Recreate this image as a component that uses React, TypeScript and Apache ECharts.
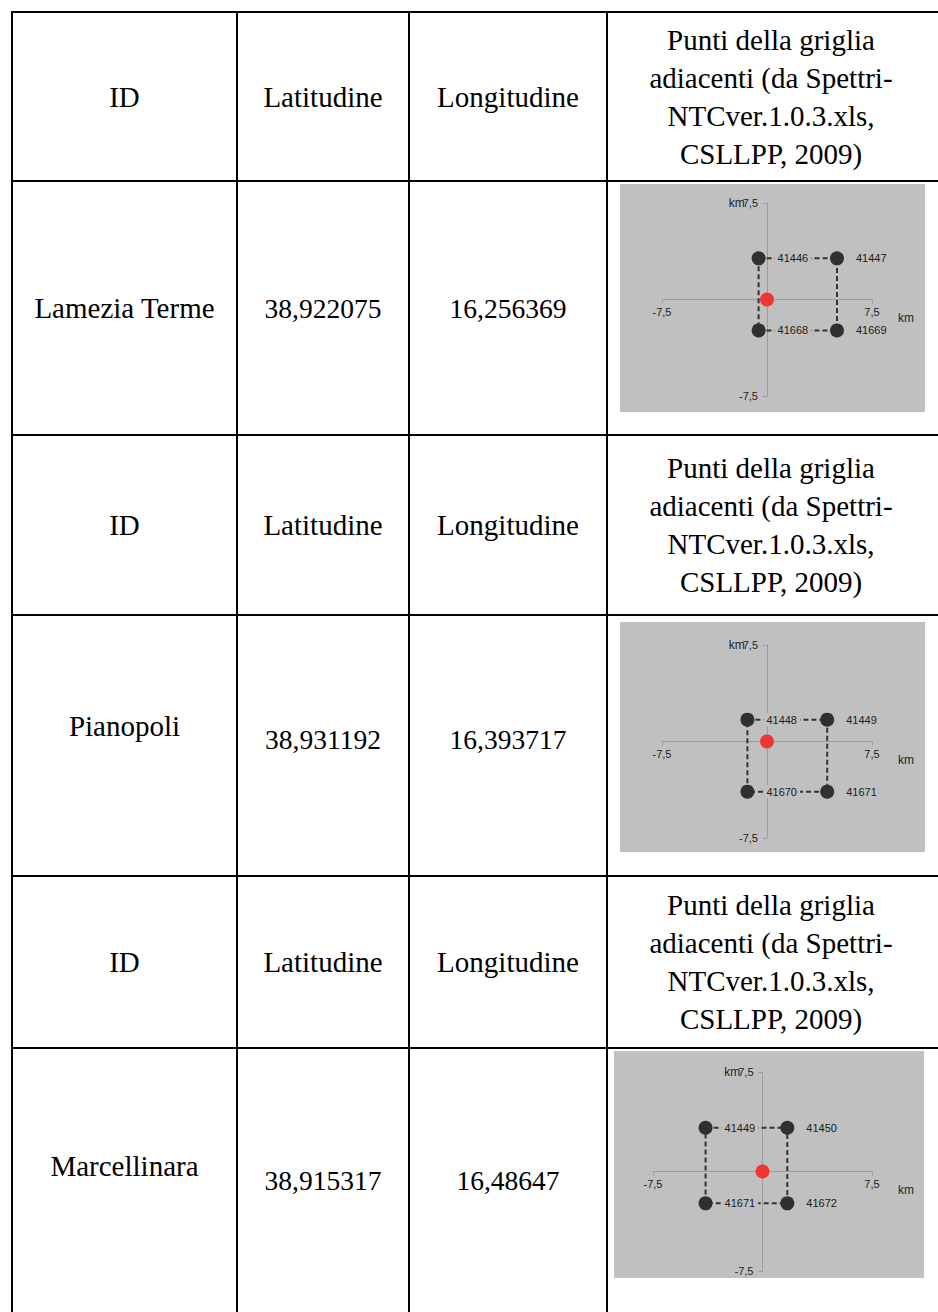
import React, { useEffect, useRef } from "react";
import * as echarts from "echarts";

// ---- data ----
const headerLabels = [
  "ID",
  "Latitudine",
  "Longitudine",
  "Punti della griglia\nadiacenti (da Spettri-\nNTCver.1.0.3.xls,\nCSLLPP, 2009)",
];
const sites = ["Lamezia Terme", "Pianopoli", "Marcellinara"];
const latitudes = ["38,922075", "38,931192", "38,915317"];
const longitudes = ["16,256369", "16,393717", "16,48647"];

// grid nodes: order top-left, top-right, bottom-left, bottom-right
const nodeIds = [
  ["41446", "41447", "41668", "41669"],
  ["41448", "41449", "41670", "41671"],
  ["41449", "41450", "41671", "41672"],
];
const nodeX = [
  [-0.6, 5.0, -0.6, 5.0],
  [-1.4, 4.3, -1.4, 4.3],
  [-3.9, 1.7, -3.9, 1.7],
];
const nodeY = [
  [3.2, 3.2, -2.4, -2.4],
  [1.7, 1.7, -3.9, -3.9],
  [3.3, 3.3, -2.4, -2.4],
];
const siteX = [0, 0, 0];
const siteY = [0, 0, 0];
const axisMin = -7.5;
const axisMax = 7.5;
const axisStep = 7.5;
const axisUnit = "km";

// ---- layout ----
const colX = [12, 237, 409, 607];
const colCenters = [124.5, 323, 508, 771];
const headerTop = [12, 435, 876];
const headerBottom = [181, 615, 1048];
const rowBottom = [435, 876, 1312];
const nameShift = [0, -20, -14];
const valueShift = [0, -6, 0];
const boxes = [
  [620, 184, 305, 228],
  [620, 622, 305, 230],
  [614, 1051, 310, 227],
];
const grids = [
  { left: 662, top: 203, width: 210, height: 193 },
  { left: 662, top: 645, width: 210, height: 193 },
  { left: 653, top: 1072, width: 219, height: 199 },
];

const SERIF = '"Liberation Serif", "Times New Roman", serif';
const SANS = '"Liberation Sans", Arial, sans-serif';

function fmt(v: number) {
  if (v === 0) return "";
  return String(v).replace(".", ",");
}
function fmtY(v: number) {
  if (v === 0) return "";
  const s = String(v).replace(".", ",");
  return v === axisMax ? `{u|${axisUnit}}${s}` : s;
}

export default function App() {
  const ref = useRef<HTMLDivElement>(null);
  useEffect(() => {
    if (!ref.current) return;
    const chart = echarts.init(ref.current, undefined, { renderer: "svg" });

    const graphic: any[] = [];
    // gray boxes
    boxes.forEach((b) => {
      graphic.push({
        type: "rect",
        z: -10,
        shape: { x: b[0], y: b[1], width: b[2], height: b[3] },
        style: { fill: "#c0c0c0" },
        silent: true,
      });
    });
    // table lines
    const L = (x1: number, y1: number, x2: number, y2: number) =>
      graphic.push({
        type: "line",
        z: 10,
        shape: { x1, y1, x2, y2 },
        style: { stroke: "#000", lineWidth: 2 },
        silent: true,
      });
    const hLines = [12, ...headerBottom, ...rowBottom.slice(0, 2)];
    hLines.forEach((y) => L(11, y, 938, y));
    colX.forEach((x) => L(x, 11, x, 1312));

    // header texts
    for (let r = 0; r < 3; r++) {
      const cy = (headerTop[r] + headerBottom[r]) / 2;
      headerLabels.forEach((t, c) => {
        graphic.push({
          type: "text",
          z: 10,
          style: {
            text: t,
            x: colCenters[c],
            y: cy,
            align: "center",
            verticalAlign: "middle",
            font: `29px ${SERIF}`,
            lineHeight: 38,
            fill: "#000",
          },
        });
      });
      const ry = (headerBottom[r] + rowBottom[r]) / 2;
      const rowTexts = [sites[r], latitudes[r], longitudes[r]];
      rowTexts.forEach((t, c) => {
        graphic.push({
          type: "text",
          z: 10,
          style: {
            text: t,
            x: colCenters[c],
            y: ry + (c === 0 ? nameShift[r] : valueShift[r]),
            align: "center",
            verticalAlign: "middle",
            font: `${c === 0 ? 29 : 27.5}px ${SERIF}`,
            fill: "#000",
          },
        });
      });
    }

    const xAxes: any[] = [];
    const yAxes: any[] = [];
    const series: any[] = [];
    grids.forEach((g, i) => {
      const common = {
        gridIndex: i,
        type: "value",
        min: axisMin,
        max: axisMax,
        interval: axisStep,
        splitLine: { show: false },
        axisLine: { onZero: false, lineStyle: { color: "#9c9c9c", width: 1 } },
        axisTick: { show: true, length: 4, lineStyle: { color: "#9c9c9c" } },
        axisLabel: {
          formatter: fmt,
          color: "#222",
          fontSize: 11,
          fontFamily: SANS,
          showMinLabel: true,
          showMaxLabel: true,
        },
      };
      xAxes.push({
        ...common,
        position: "bottom",
        offset: -g.height / 2,
        axisLabel: { ...common.axisLabel, margin: 7 },
        name: axisUnit,
        nameLocation: "end",
        nameGap: 26,
        nameTextStyle: {
          color: "#222",
          fontSize: 12,
          fontFamily: SANS,
          align: "left",
          verticalAlign: "top",
          padding: [12, 0, 0, 0],
        },
      });
      yAxes.push({
        ...common,
        position: "left",
        offset: -g.width / 2,
        axisLabel: {
          ...common.axisLabel,
          formatter: fmtY,
          margin: 9,
          rich: {
            u: { fontSize: 12, fontFamily: SANS, color: "#222", padding: [0, -2, 0, 0] },
          },
        },
      });
      const pts = nodeX[i].map((x, k) => [x, nodeY[i][k], nodeIds[i][k]]);
      const loop = [0, 1, 3, 2, 0].map((k) => [nodeX[i][k], nodeY[i][k]]);
      series.push({
        type: "line",
        xAxisIndex: i,
        yAxisIndex: i,
        data: loop,
        symbol: "none",
        silent: true,
        z: 2,
        lineStyle: { color: "#333", width: 2, type: [5, 3] },
      });
      series.push({
        type: "scatter",
        xAxisIndex: i,
        yAxisIndex: i,
        data: pts,
        symbolSize: 14,
        z: 3,
        itemStyle: { color: "#303030", opacity: 1 },
        label: {
          show: true,
          position: "right",
          distance: 9,
          formatter: (p: any) => p.data[2],
          color: "#1a1a1a",
          fontSize: 11,
          fontFamily: SANS,
          backgroundColor: "#c0c0c0",
          padding: [1, 3],
        },
      });
      series.push({
        type: "scatter",
        xAxisIndex: i,
        yAxisIndex: i,
        data: [[siteX[i], siteY[i]]],
        symbolSize: 14,
        z: 4,
        itemStyle: { color: "#f03535", opacity: 1 },
      });
    });

    chart.setOption({
      animation: false,
      backgroundColor: "#fff",
      grid: grids.map((g) => ({ ...g, containLabel: false })),
      xAxis: xAxes,
      yAxis: yAxes,
      series,
      graphic,
    });
    return () => chart.dispose();
  }, []);
  return (
    <div
      ref={ref}
      style={{ position: "absolute", left: 0, top: 0, width: 938, height: 1312 }}
    />
  );
}
